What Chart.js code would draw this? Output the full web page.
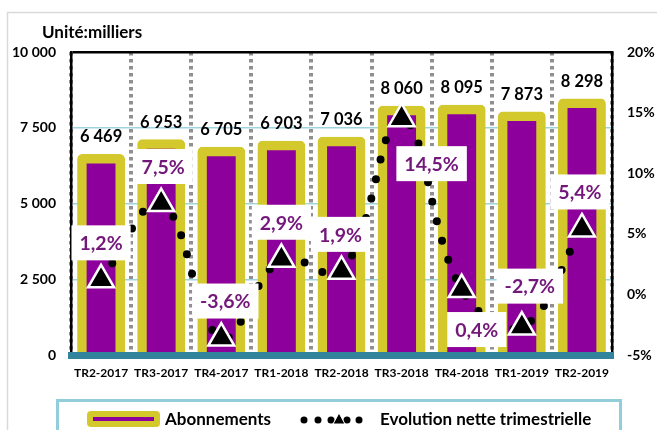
<!DOCTYPE html>
<html>
<head>
<meta charset="utf-8">
<script src="https://cdn.jsdelivr.net/npm/chart.js@4.4.1/dist/chart.umd.min.js"></script>
<style>
  html, body { margin: 0; padding: 0; background: #fff; }
  #wrap { width: 657px; height: 430px; }
</style>
</head>
<body>
<div id="wrap"><canvas id="myChart" width="657" height="430"></canvas></div>
<script>
// data
const quarters = ['TR2-2017', 'TR3-2017', 'TR4-2017', 'TR1-2018', 'TR2-2018', 'TR3-2018', 'TR4-2018', 'TR1-2019', 'TR2-2019'];
const abonnements = [6469, 6953, 6705, 6903, 7036, 8060, 8095, 7873, 8298];
const evolution = [1.2, 7.5, -3.6, 2.9, 1.9, 14.5, 0.4, -2.7, 5.4];
const leftTicks = [0, 2500, 5000, 7500, 10000];
const rightTicks = [-5, 0, 5, 10, 15, 20];

// where each % label box sits relative to its point (dx, dy)
const pctOffset = [[0, -37], [2, -37], [4, -37], [0, -37], [-1, -37], [30, 45], [15, 40], [8, -41], [-2, -37]];

const FONT = 'Lato';
const purple = '#8E009B';
const yellow = '#D3C92C';
const textPurple = '#74177A';

function milliers(v) {
    return String(v).replace(/\B(?=(\d{3})+(?!\d))/g, ' ');
}
function pct(v) {
    return v.toFixed(1).replace('.', ',') + '%';
}

const decorations = {
    id: 'decorations',
    beforeDraw(chart) {
        const c = chart.ctx;
        c.save();
        c.strokeStyle = '#d9d9d9';
        c.lineWidth = 1.5;
        c.strokeRect(7.5, 12.5, 700, 500);
        c.restore();
    },
    afterDatasetsDraw(chart) {
        const c = chart.ctx;
        const barMeta = chart.getDatasetMeta(1);
        const lineMeta = chart.getDatasetMeta(0);
        c.save();
        // bar values
        c.font = 'bold 16.5px ' + FONT;
        c.fillStyle = '#000';
        c.textAlign = 'center';
        c.textBaseline = 'middle';
        barMeta.data.forEach((bar, i) => {
            c.fillText(milliers(abonnements[i]), bar.x, bar.y - 22);
        });
        // percentage boxes
        c.font = 'bold 19.5px ' + FONT;
        lineMeta.data.forEach((pt, i) => {
            const txt = pct(evolution[i]);
            const w = c.measureText(txt).width + 16;
            const h = 35;
            const cx = pt.x + pctOffset[i][0];
            const cy = pt.y + pctOffset[i][1];
            c.fillStyle = '#fff';
            c.fillRect(cx - w / 2, cy - h / 2, w, h);
            c.fillStyle = textPurple;
            c.fillText(txt, cx, cy + 1);
        });
        c.restore();
    },
    afterDraw(chart) {
        const c = chart.ctx;
        c.save();
        // unit title
        c.font = 'bold 17px ' + FONT;
        c.fillStyle = '#000';
        c.textAlign = 'left';
        c.textBaseline = 'middle';
        c.fillText('Unité:milliers', 42, 33);

        // legend frame
        c.strokeStyle = '#92CDDC';
        c.lineWidth = 3;
        c.strokeRect(57.5, 400.5, 563, 60);

        // bar swatch
        c.fillStyle = yellow;
        c.beginPath();
        c.roundRect(87, 411, 73, 16, 4);
        c.fill();
        c.fillStyle = purple;
        c.fillRect(93, 417, 61, 4);
        c.fillStyle = '#000';
        c.fillText('Abonnements', 165, 420);

        // line swatch
        [304, 318, 331, 347, 359].forEach(x => {
            c.beginPath();
            c.arc(x, 420, 3.5, 0, Math.PI * 2);
            c.fill();
        });
        c.beginPath();
        c.moveTo(339, 413);
        c.lineTo(345, 424);
        c.lineTo(333, 424);
        c.closePath();
        c.fill();
        c.strokeStyle = '#fff';
        c.lineWidth = 1;
        c.stroke();
        c.fillText('Evolution nette trimestrielle', 380, 420);
        c.restore();
    }
};

new Chart(document.getElementById('myChart'), {
    type: 'bar',
    data: {
        labels: quarters,
        datasets: [{
            type: 'line',
            label: 'Evolution nette trimestrielle',
            data: evolution,
            yAxisID: 'y1',
            borderColor: '#000',
            borderWidth: 8,
            borderDash: [0, 20],
            borderCapStyle: 'round',
            tension: 0.4,
            pointStyle: 'triangle',
            pointRadius: 15,
            pointBackgroundColor: '#000',
            pointBorderColor: '#fff',
            pointBorderWidth: 2.5,
            clip: false
        }, {
            label: 'Abonnements',
            data: abonnements,
            yAxisID: 'y',
            backgroundColor: purple,
            borderColor: yellow,
            borderWidth: 9.5,
            borderRadius: 5,
            inflateAmount: 5,
            categoryPercentage: 1,
            barPercentage: 0.63
        }]
    },
    options: {
        responsive: false,
        animation: false,
        layout: { padding: { top: 52, bottom: 40, left: 0, right: 0 } },
        plugins: {
            legend: { display: false },
            tooltip: { enabled: false }
        },
        scales: {
            x: {
                offset: true,
                grid: { color: '#909090', lineWidth: 4, drawTicks: false, offset: true },
                border: { color: '#31849B', width: 7, dash: [3.5, 3.5], z: 1 },
                ticks: {
                    autoSkip: false, maxRotation: 0, padding: 11,
                    color: '#000', font: { family: FONT, size: 12, weight: 'bold' }
                },
                afterFit(s) { s.height = 35; }
            },
            y: {
                position: 'left',
                min: 0, max: 10000,
                afterBuildTicks(s) { s.ticks = leftTicks.map(v => ({ value: v })); },
                grid: {
                    drawTicks: false,
                    color: ctx => ctx.tick.value === 10000 ? '#000' : (ctx.tick.value === 0 ? 'rgba(0,0,0,0)' : '#9ED3E0'),
                    lineWidth: ctx => ctx.tick.value === 10000 ? 2.5 : 1.5
                },
                border: { color: '#000', width: 2.5 },
                ticks: {
                    padding: 15, color: '#000',
                    font: { family: FONT, size: 14, weight: 'bold' },
                    callback: v => milliers(v)
                },
                afterFit(s) { s.width = 71; }
            },
            y1: {
                position: 'right',
                min: -5, max: 20,
                afterBuildTicks(s) { s.ticks = rightTicks.map(v => ({ value: v })); },
                grid: { drawOnChartArea: false, drawTicks: false },
                border: { color: '#000', width: 2.5 },
                ticks: {
                    padding: 15, color: '#000',
                    font: { family: FONT, size: 14, weight: 'bold' },
                    callback: v => v + '%'
                },
                afterFit(s) { s.width = 45; }
            }
        }
    },
    plugins: [decorations]
});
</script>
</body>
</html>
